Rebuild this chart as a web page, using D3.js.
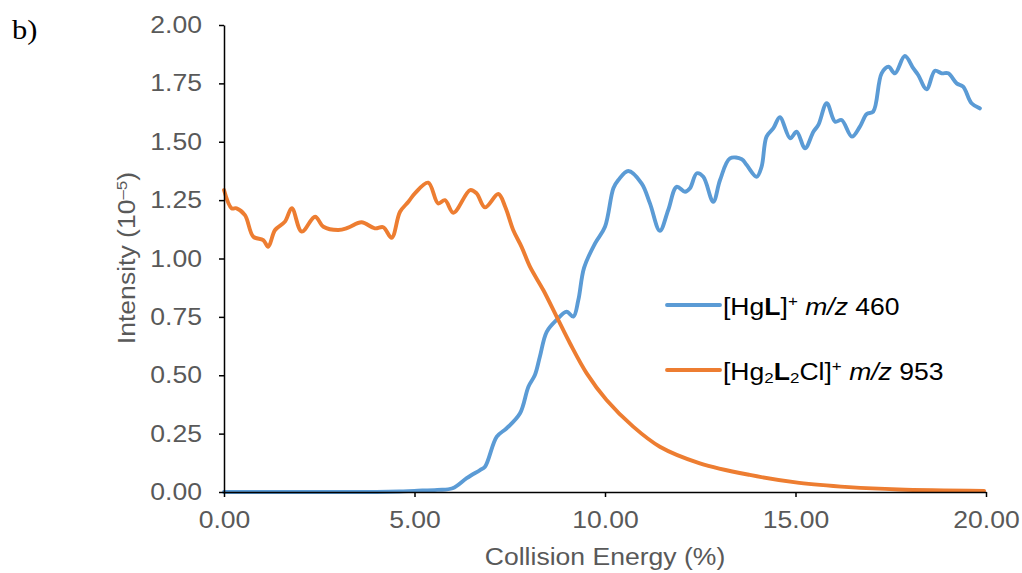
<!DOCTYPE HTML>
<html>

<head>
  <meta charset="UTF-8">
  <title>Collision Energy - Intensity</title>
  <script src="https://cdn.jsdelivr.net/npm/d3@7"></script>
  <style>
    body { margin: 0; background: #ffffff; }
    text { font-family: "Liberation Sans", Arial, sans-serif; }
  </style>
</head>

<body>
<script>
  // [collision energy %, intensity 10^-5]
  const hgL = [
    [0, 0], [1, 0], [2, 0], [3, 0], [4, 0], [4.6, 0.002], [5.0, 0.005], [5.6, 0.009], [6.0, 0.016],
    [6.37, 0.059], [6.72, 0.094], [6.85, 0.108], [7.16, 0.237], [7.42, 0.273], [7.77, 0.337],
    [7.99, 0.451], [8.16, 0.501], [8.29, 0.579], [8.47, 0.686], [8.73, 0.737], [8.99, 0.772],
    [9.17, 0.751], [9.30, 0.822], [9.45, 0.96], [9.74, 1.065], [10.0, 1.136], [10.22, 1.301],
    [10.35, 1.336], [10.61, 1.375], [10.96, 1.322], [11.18, 1.236], [11.44, 1.119], [11.66, 1.208],
    [11.88, 1.307], [12.10, 1.286], [12.23, 1.301], [12.41, 1.365], [12.58, 1.350], [12.84, 1.243],
    [13.02, 1.336], [13.28, 1.429], [13.59, 1.425], [13.72, 1.400], [13.98, 1.350], [14.11, 1.393],
    [14.24, 1.522], [14.42, 1.558], [14.59, 1.605], [14.86, 1.515], [15.03, 1.543], [15.25, 1.472],
    [15.47, 1.543], [15.60, 1.572], [15.82, 1.665], [16.04, 1.586], [16.21, 1.593], [16.48, 1.522],
    [16.69, 1.565], [16.87, 1.619], [17.04, 1.629], [17.26, 1.793], [17.44, 1.821], [17.61, 1.793],
    [17.87, 1.867], [18.09, 1.815], [18.22, 1.786], [18.44, 1.725], [18.66, 1.804], [18.84, 1.793],
    [19.01, 1.793], [19.23, 1.750], [19.40, 1.736], [19.62, 1.665], [19.84, 1.643]
  ];

  const hg2L2Cl = [
    [0, 1.293], [0.2, 1.215], [0.33, 1.215], [0.55, 1.186], [0.77, 1.093], [1.03, 1.079], [1.16, 1.05],
    [1.34, 1.122], [1.6, 1.158], [1.78, 1.215], [2.04, 1.115], [2.39, 1.179], [2.61, 1.136], [3.0, 1.122],
    [3.26, 1.132], [3.61, 1.155], [3.96, 1.129], [4.18, 1.134], [4.4, 1.089], [4.62, 1.2], [4.84, 1.243],
    [5.01, 1.279], [5.36, 1.325], [5.62, 1.236], [5.8, 1.25], [6.02, 1.196], [6.46, 1.293], [6.63, 1.279],
    [6.85, 1.219], [7.2, 1.276], [7.38, 1.222], [7.59, 1.122], [7.81, 1.05], [8.03, 0.965], [8.38, 0.865],
    [8.73, 0.751], [9.08, 0.637], [9.52, 0.508], [10.04, 0.394], [10.74, 0.28], [11.44, 0.194],
    [12.49, 0.123], [13.8, 0.073], [15.1, 0.039], [16.4, 0.021], [17.7, 0.011], [19.95, 0.005]
  ];

  const xTicks = [0, 5, 10, 15, 20];
  const yTicks = [0, 0.25, 0.5, 0.75, 1, 1.25, 1.5, 1.75, 2];
  const colors = ['#5B9BD5', '#ED7D31'];

  const w = 1022;
  const h = 573;
  const fontSize = 23.5;
  const sx = 1.13;   // the source figure is stretched a bit horizontally
  const grey = '#595959';

  const xScale = d3.scaleLinear().domain([0, 20]).range([224, 986]);
  const yScale = d3.scaleLinear().domain([0, 2]).range([492, 25]);

  const svg = d3.select("body")
    .append("svg")
    .attr("width", w)
    .attr("height", h);

  //
  // Lines
  //
  const line = d3.line()
    .x(d => xScale(d[0]))
    .y(d => yScale(d[1]))
    .curve(d3.curveCatmullRom.alpha(0.5));

  [hgL, hg2L2Cl].forEach((series, i) => {
    svg.append("path")
      .datum(series)
      .attr("d", line)
      .attr("fill", "none")
      .attr("stroke", colors[i])
      .attr("stroke-width", 3.9)
      .attr("stroke-linejoin", "round")
      .attr("stroke-linecap", "round");
  });

  //
  // Axes
  //
  const xAxis = d3.axisBottom(xScale)
    .tickValues(xTicks)
    .tickFormat(d3.format(".2f"))
    .tickSize(5)
    .tickSizeOuter(0)
    .tickPadding(14);

  const yAxis = d3.axisLeft(yScale)
    .tickValues(yTicks)
    .tickFormat(d3.format(".2f"))
    .tickSize(5)
    .tickSizeOuter(0)
    .tickPadding(14.5);

  const gx = svg.append("g")
    .attr("transform", "translate(0," + yScale(0) + ")")
    .call(xAxis);

  const gy = svg.append("g")
    .attr("transform", "translate(" + xScale(0) + ",0)")
    .call(yAxis);

  [gx, gy].forEach(g => {
    g.select(".domain").attr("stroke", "#000").attr("stroke-width", 1.5);
    g.selectAll(".tick line").attr("stroke", "#000").attr("stroke-width", 1.5);
    g.selectAll(".tick text")
      .attr("fill", grey)
      .style("font-size", fontSize + "px")
      .style("font-family", '"Liberation Sans", Arial, sans-serif')
      .attr("transform", "scale(" + sx + ",1)");
  });

  //
  // Axis titles and panel label
  //
  svg.append("text")
    .attr("transform", "translate(605,565) scale(" + sx + ",1)")
    .attr("text-anchor", "middle")
    .attr("fill", grey)
    .style("font-size", fontSize + "px")
    .text("Collision Energy (%)");

  const yTitle = svg.append("text")
    .attr("transform", "translate(135,258) rotate(-90) scale(" + sx + ",1)")
    .attr("text-anchor", "middle")
    .attr("fill", grey)
    .style("font-size", fontSize + "px");
  yTitle.append("tspan").text("Intensity (10");
  yTitle.append("tspan").attr("dy", -8).style("font-size", "15px").text("\u20135");
  yTitle.append("tspan").attr("dy", 8).text(")");

  svg.append("text")
    .attr("transform", "translate(12,39) scale(" + sx + ",1)")
    .style("font-family", '"Liberation Serif", "Times New Roman", serif')
    .style("font-size", "27px")
    .attr("fill", "#000")
    .text("b)");

  //
  // Legend
  //
  const legendY = [305, 370];
  const legendParts = [
    [["[Hg", ""], ["L", "b"], ["]", ""], ["+", "sup"], [" ", ""], ["m/z", "i"], [" 460", ""]],
    [["[Hg", ""], ["2", "sub"], ["L", "b"], ["2", "sub"], ["Cl]", ""], ["+", "sup"], [" ", ""], ["m/z", "i"], [" 953", ""]]
  ];

  legendParts.forEach((parts, i) => {
    svg.append("line")
      .attr("x1", 667).attr("x2", 720)
      .attr("y1", legendY[i]).attr("y2", legendY[i])
      .attr("stroke", colors[i])
      .attr("stroke-width", 3.9)
      .attr("stroke-linecap", "round");

    const t = svg.append("text")
      .attr("transform", "translate(723," + (legendY[i] + 10) + ") scale(" + sx + ",1)")
      .attr("fill", "#000")
      .style("font-size", fontSize + "px")
      .attr("xml:space", "preserve");

    let shift = 0;
    parts.forEach(p => {
      const span = t.append("tspan").text(p[0]);
      let target = 0;
      if (p[1] === "b") span.style("font-weight", "bold");
      if (p[1] === "i") span.style("font-style", "italic");
      if (p[1] === "sup") { target = -9; span.style("font-size", "15px"); }
      if (p[1] === "sub") { target = 3; span.style("font-size", "15px"); }
      span.attr("dy", target - shift);
      shift = target;
    });
  });
</script>
</body>

</html>
